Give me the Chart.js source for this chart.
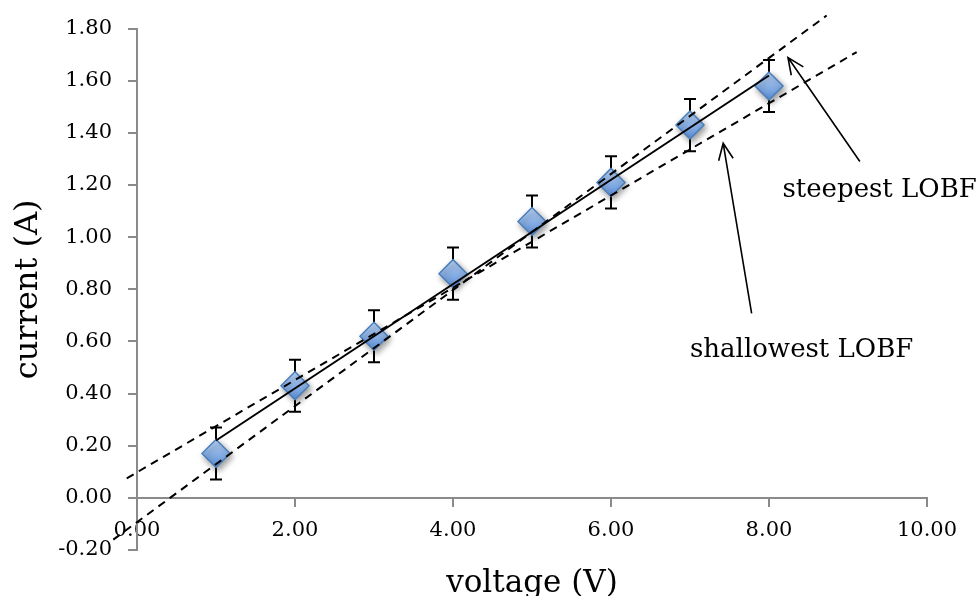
<!DOCTYPE html>
<html lang="en">
<head>
<meta charset="UTF-8">
<title>current vs voltage</title>
<script src="https://cdn.jsdelivr.net/npm/chart.js"></script>
<style>
    html, body { margin: 0; padding: 0; background: #fff; }
    .chart-box { position: relative; width: 979px; height: 596px; }
</style>
</head>
<body>
<div class="chart-box"><canvas id="chart"></canvas></div>
<script>
// readings (V, A) with +/- uncertainty on current
const voltage = [1, 2, 3, 4, 5, 6, 7, 8];
const current = [0.17, 0.43, 0.62, 0.86, 1.06, 1.21, 1.43, 1.58];
const currentError = [0.1, 0.1, 0.1, 0.1, 0.1, 0.1, 0.1, 0.1];

// end points of the three lines
const bestFitX = [1, 8];
const bestFitY = [0.22, 1.62];
const steepX = [-0.30, 8.73];
const steepY = [-0.16, 1.85];
const shallowX = [-0.13, 9.11];
const shallowY = [0.075, 1.71];

// annotations (data units)
const noteText = ['steepest LOBF', 'shallowest LOBF'];
const noteX = [8.17, 7.0];
const noteY = [1.18, 0.566];
const arrowTailX = [9.15, 7.78];
const arrowTailY = [1.29, 0.708];
const arrowTipX = [8.24, 7.42];
const arrowTipY = [1.689, 1.36];

const FONT = "'DejaVu Serif', 'Liberation Serif', serif";
const AXIS_GREY = '#8a8a8a';
const MARKER_INDEX = 3;

const toPoints = (xs, ys) => xs.map((x, i) => ({x: x, y: ys[i]}));
const fmt = v => (Math.abs(v) < 1e-9 ? 0 : v).toFixed(2);

// error bars go under the diamonds
const errorBars = {
    id: 'errorBars',
    beforeDatasetsDraw(chart) {
        const {ctx, scales: {x, y}} = chart;
        ctx.save();
        ctx.strokeStyle = '#000';
        ctx.lineWidth = 2;
        voltage.forEach((v, i) => {
            const px = x.getPixelForValue(v);
            const top = y.getPixelForValue(current[i] + currentError[i]);
            const bot = y.getPixelForValue(current[i] - currentError[i]);
            ctx.beginPath();
            ctx.moveTo(px, top); ctx.lineTo(px, bot);
            ctx.moveTo(px - 6, top); ctx.lineTo(px + 6, top);
            ctx.moveTo(px - 6, bot); ctx.lineTo(px + 6, bot);
            ctx.stroke();
        });
        ctx.restore();
    }
};

// soft drop shadow on the markers
const markerShadow = {
    id: 'markerShadow',
    beforeDatasetDraw(chart, args) {
        if (args.index !== MARKER_INDEX) return;
        const ctx = chart.ctx;
        ctx.save();
        ctx.shadowColor = 'rgba(0, 0, 0, 0.4)';
        ctx.shadowBlur = 6;
        ctx.shadowOffsetX = 2;
        ctx.shadowOffsetY = 3;
    },
    afterDatasetDraw(chart, args) {
        if (args.index === MARKER_INDEX) chart.ctx.restore();
    }
};

// arrows + text labels
const notes = {
    id: 'notes',
    afterDraw(chart) {
        const {ctx, scales: {x, y}} = chart;
        ctx.save();
        ctx.strokeStyle = '#000';
        ctx.lineWidth = 1.6;
        arrowTipX.forEach((tx, i) => {
            const x1 = x.getPixelForValue(arrowTailX[i]);
            const y1 = y.getPixelForValue(arrowTailY[i]);
            const x2 = x.getPixelForValue(tx);
            const y2 = y.getPixelForValue(arrowTipY[i]);
            const ang = Math.atan2(y2 - y1, x2 - x1);
            const head = 18, spread = 0.42;
            ctx.beginPath();
            ctx.moveTo(x1, y1); ctx.lineTo(x2, y2);
            ctx.moveTo(x2 - head * Math.cos(ang - spread), y2 - head * Math.sin(ang - spread));
            ctx.lineTo(x2, y2);
            ctx.lineTo(x2 - head * Math.cos(ang + spread), y2 - head * Math.sin(ang + spread));
            ctx.stroke();
        });
        ctx.fillStyle = '#000';
        ctx.font = '26px ' + FONT;
        ctx.textAlign = 'left';
        ctx.textBaseline = 'middle';
        noteText.forEach((t, i) => {
            ctx.fillText(t, x.getPixelForValue(noteX[i]), y.getPixelForValue(noteY[i]));
        });
        ctx.restore();
    }
};

const lineSet = (xs, ys, dash) => ({
    data: toPoints(xs, ys),
    showLine: true,
    borderColor: '#000',
    borderWidth: 2,
    borderDash: dash,
    pointRadius: 0,
    clip: false
});

new Chart(document.getElementById('chart'), {
    type: 'scatter',
    data: {
        datasets: [
            lineSet(bestFitX, bestFitY, []),
            lineSet(steepX, steepY, [8, 6]),
            lineSet(shallowX, shallowY, [8, 6]),
            {
                data: toPoints(voltage, current),
                pointStyle: 'rectRot',
                pointRadius: 14,
                borderWidth: 1.5,
                pointBorderColor: '#4a7ebb',
                pointBackgroundColor: c => {
                    const fallback = '#8db3e2';
                    if (c.type !== 'data' || !c.parsed) return fallback;
                    const py = c.chart.scales.y.getPixelForValue(c.parsed.y);
                    if (!isFinite(py)) return fallback;
                    const g = c.chart.ctx.createLinearGradient(0, py - 14, 0, py + 14);
                    g.addColorStop(0, '#bcd5f6');
                    g.addColorStop(1, '#5a8ed6');
                    return g;
                }
            }
        ]
    },
    options: {
        responsive: true,
        maintainAspectRatio: false,
        animation: false,
        events: [],
        layout: { padding: { left: 0, right: 52, top: 24, bottom: 46 } },
        plugins: { legend: { display: false }, tooltip: { enabled: false } },
        scales: {
            x: {
                type: 'linear',
                position: { y: 0 },
                min: 0,
                max: 10,
                grid: { drawOnChartArea: false, tickLength: 8, color: AXIS_GREY, lineWidth: 2 },
                border: { color: AXIS_GREY, width: 2 },
                ticks: {
                    stepSize: 2,
                    padding: 12,
                    color: '#000',
                    font: { family: FONT, size: 21 },
                    callback: v => fmt(v)
                },
                title: {
                    display: true,
                    text: 'voltage (V)',
                    color: '#000',
                    font: { family: FONT, size: 31 },
                    padding: { top: 10, bottom: 0 }
                }
            },
            y: {
                type: 'linear',
                position: 'left',
                min: -0.2,
                max: 1.8,
                afterFit: s => { s.width = 137; },
                grid: { drawOnChartArea: false, tickLength: 9, color: AXIS_GREY, lineWidth: 2 },
                border: { color: AXIS_GREY, width: 2 },
                ticks: {
                    stepSize: 0.2,
                    padding: 16,
                    color: '#000',
                    font: { family: FONT, size: 21 },
                    callback: v => fmt(v)
                },
                title: {
                    display: true,
                    text: 'current (A)',
                    color: '#000',
                    font: { family: FONT, size: 32 },
                    padding: { top: 9, bottom: 0 }
                }
            }
        }
    },
    plugins: [errorBars, markerShadow, notes]
});
</script>
</body>
</html>
